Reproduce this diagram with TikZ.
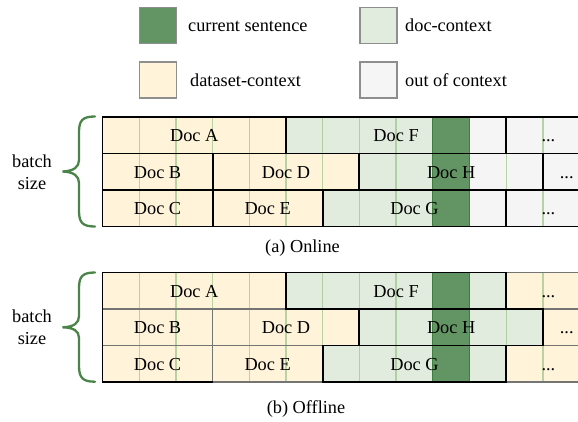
\documentclass[tikz,border=0pt]{standalone}
\usepackage{fontspec}
\setmainfont{Liberation Serif}
\newfontfamily\tnrfont{Liberation Serif}
\usetikzlibrary{calc}
\definecolor{curgreen}{HTML}{639463}
\definecolor{curedge}{HTML}{3F7D3F}
\definecolor{docgreen}{HTML}{E1ECDE}
\definecolor{dscream}{HTML}{FFF3DA}
\definecolor{outgrey}{HTML}{F5F5F5}
\definecolor{gridline}{HTML}{9CC48A}
\definecolor{bracegreen}{HTML}{4B8449}
\definecolor{softborder}{HTML}{747474}
\definecolor{legborder}{HTML}{8E8E8E}
\newcommand\mkcell[5]{%
  \node[cellbox, fill=#5, minimum width={36.7*(#4-#3)}, anchor=north west] (#1) at ({102.5+36.7*#3},#2) {};}
\newcommand\celltext[2]{\node[doctext] at ([yshift=-6.5pt]#1.center) {#2};}
\newcommand\hardborder[1]{\draw[hardline] (#1.north west) rectangle (#1.south east);}
\newcommand\softborderbox[1]{\draw[softline] (#1.north west) rectangle (#1.south east);}
\begin{document}
\begin{tikzpicture}[x=1pt,y=-1pt,
  txt/.style={font=\tnrfont\fontsize{18.3}{21}\selectfont, inner sep=0pt},
  doctext/.style={txt, anchor=base},
  cellbox/.style={inner sep=0pt, outer sep=0pt, minimum height=36.5pt, draw=none},
  legbox/.style={draw=legborder, line width=1.2pt, minimum width=37pt, minimum height=36pt, inner sep=0pt},
  thinline/.style={draw=gridline, line width=1.3pt, opacity=0.7},
  hardline/.style={draw=black, line width=1.9pt},
  softline/.style={draw=softborder, line width=1.7pt},
  darkedge/.style={draw=curedge, line width=1.3pt},
  bracestyle/.style={draw=bracegreen, line width=2.3pt, line cap=round}]
\useasboundingbox (0,0) rectangle (578,421);
\clip (0,0) rectangle (578,421);

% ---------- legend ----------
\node[legbox, fill=curgreen] (l1) at (158,25.3) {};
\node[legbox, fill=docgreen] (l2) at (378.5,25.3) {};
\node[legbox, fill=dscream] (l3) at (158,80) {};
\node[legbox, fill=outgrey] (l4) at (378.5,80) {};
\node[txt, anchor=base west] (t1) at (188,31.3) {current sentence};
\node[txt, anchor=base west] (t2) at (405,31.3) {doc-context};
\node[txt, anchor=base west] (t3) at (190,86) {dataset-context};
\node[txt, anchor=base west] (t4) at (405,86) {out of context};

% column coordinates
\coordinate (c9) at ({102.5+36.7*9},0);
\coordinate (c10) at ({102.5+36.7*10},0);

% ---------- (a) Online ----------
\mkcell{oA}{117}{0}{5}{dscream}
\mkcell{oF}{117}{5}{11}{outgrey}
\mkcell{oR1}{117}{11}{13.3}{outgrey}
\mkcell{oB}{153.5}{0}{3}{dscream}
\mkcell{oD}{153.5}{3}{7}{dscream}
\mkcell{oH}{153.5}{7}{12}{outgrey}
\mkcell{oR2}{153.5}{12}{13.3}{outgrey}
\mkcell{oC}{190}{0}{3}{dscream}
\mkcell{oE}{190}{3}{6}{dscream}
\mkcell{oG}{190}{6}{11}{outgrey}
\mkcell{oR3}{190}{11}{13.3}{outgrey}
\fill[docgreen] (oF.south west) rectangle (oF.north -| c9);
\fill[docgreen] (oH.south west) rectangle (oH.north -| c9);
\fill[docgreen] (oG.south west) rectangle (oG.north -| c9);
\foreach \k in {1,...,12}
  \draw[thinline] ({102.5+36.7*\k},117) -- ({102.5+36.7*\k},226.5);
\fill[curgreen] (oA.north -| c9) rectangle (oC.south -| c10);
\draw[darkedge] (oA.north -| c9) -- (oC.south -| c9);
\draw[darkedge] (oA.north -| c10) -- (oC.south -| c10);
\foreach \n in {oA,oF,oR1,oB,oD,oH,oR2,oC,oE,oG,oR3} {\hardborder{\n}}
\celltext{oA}{Doc A}
\celltext{oF}{Doc F}
\celltext{oR1}{...}
\celltext{oB}{Doc B}
\celltext{oD}{Doc D}
\celltext{oH}{Doc H}
\celltext{oR2}{...}
\celltext{oC}{Doc C}
\celltext{oE}{Doc E}
\celltext{oG}{Doc G}
\celltext{oR3}{...}
\node[txt, anchor=base] (capa) at (302.5,252) {(a) Online};

% ---------- (b) Offline ----------
\mkcell{fA}{272.5}{0}{5}{dscream}
\mkcell{fF}{272.5}{5}{11}{docgreen}
\mkcell{fR1}{272.5}{11}{13.3}{dscream}
\mkcell{fB}{309}{0}{3}{dscream}
\mkcell{fD}{309}{3}{7}{dscream}
\mkcell{fH}{309}{7}{12}{docgreen}
\mkcell{fR2}{309}{12}{13.3}{dscream}
\mkcell{fC}{345.5}{0}{3}{dscream}
\mkcell{fE}{345.5}{3}{6}{dscream}
\mkcell{fG}{345.5}{6}{11}{docgreen}
\mkcell{fR3}{345.5}{11}{13.3}{dscream}
\foreach \k in {1,...,12}
  \draw[thinline] ({102.5+36.7*\k},272.5) -- ({102.5+36.7*\k},382);
\fill[curgreen] (fA.north -| c9) rectangle (fC.south -| c10);
\draw[darkedge] (fA.north -| c9) -- (fC.south -| c9);
\draw[darkedge] (fA.north -| c10) -- (fC.south -| c10);
\foreach \n in {fA,fB,fD,fC,fE,fR1,fR2,fR3} {\softborderbox{\n}}
\foreach \n in {fF,fH,fG} {\hardborder{\n}}
\draw[hardline] (fA.north east) -- (fA.north west) -- (fC.south west) -- (fC.south east);
\celltext{fA}{Doc A}
\celltext{fF}{Doc F}
\celltext{fR1}{...}
\celltext{fB}{Doc B}
\celltext{fD}{Doc D}
\celltext{fH}{Doc H}
\celltext{fR2}{...}
\celltext{fC}{Doc C}
\celltext{fE}{Doc E}
\celltext{fG}{Doc G}
\celltext{fR3}{...}
\node[txt, anchor=base] (capb) at (306,413.5) {(b) Offline};

% ---------- braces ----------
\draw[bracestyle] (95,116.5) .. controls (83,116.5) and (79,120) .. (79,132)
  -- (79,160) .. controls (79,167) and (74,171) .. (62.5,171.5)
  .. controls (74,172) and (79,176) .. (79,183)
  -- (79,211) .. controls (79,223) and (83,226.5) .. (95,226.5);
\draw[bracestyle] (95,272.5) .. controls (83,272.5) and (79,276) .. (79,288)
  -- (79,316) .. controls (79,323) and (74,327) .. (62.5,327.3)
  .. controls (74,327.6) and (79,331) .. (79,338)
  -- (79,366) .. controls (79,378) and (83,381.7) .. (95,381.7);
\node[txt, align=center, font=\tnrfont\fontsize{18.3}{21.5}\selectfont] (bs1) at (32,172) {batch\\size};
\node[txt, align=center, font=\tnrfont\fontsize{18.3}{21.5}\selectfont] (bs2) at (32,327) {batch\\size};
\end{tikzpicture}
\end{document}
